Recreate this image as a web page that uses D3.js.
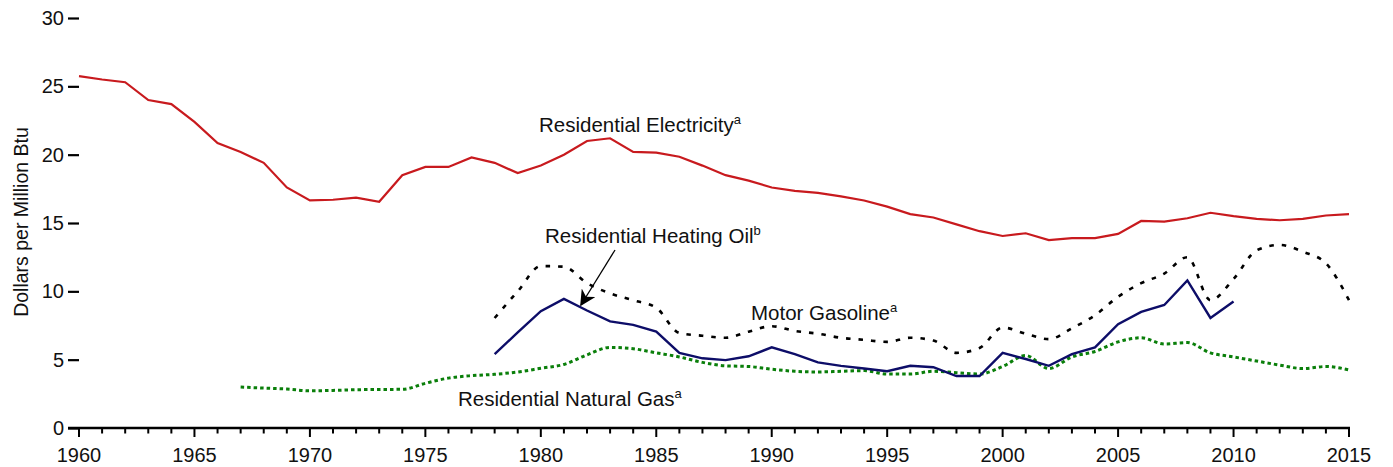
<!DOCTYPE html>
<html>
<head>
<meta charset="utf-8">
<script src="https://cdn.jsdelivr.net/npm/d3@7"></script>
<style>
  body { margin: 0; background: #fff; }
  text { font-family: "Liberation Sans", Arial, sans-serif; fill: #111; }
</style>
</head>
<body>
<div id="chart"></div>
<script>
const years = d3.range(1960, 2016);

const electricity = [25.75, 25.5, 25.3, 24.0, 23.7, 22.4, 20.85, 20.2, 19.4, 17.6,
  16.65, 16.7, 16.85, 16.55, 18.5, 19.1, 19.1, 19.8, 19.4, 18.65,
  19.2, 20.0, 21.0, 21.2, 20.2, 20.15, 19.85, 19.2, 18.5, 18.1,
  17.6, 17.35, 17.2, 16.95, 16.65, 16.2, 15.65, 15.4, 14.9, 14.4,
  14.05, 14.25, 13.75, 13.9, 13.9, 14.2, 15.15, 15.1, 15.35, 15.75,
  15.5, 15.3, 15.2, 15.3, 15.55, 15.65];

const heatingOilYears = d3.range(1978, 2011);
const heatingOil = [5.4, 7.0, 8.55, 9.45, 8.6, 7.8, 7.55, 7.05, 5.5, 5.1,
  4.97, 5.25, 5.9, 5.4, 4.8, 4.55, 4.35, 4.15, 4.55, 4.45,
  3.8, 3.8, 5.5, 5.05, 4.55, 5.4, 5.9, 7.6, 8.5, 9.0,
  10.8, 8.05, 9.25];

const gasolineYears = d3.range(1978, 2016);
const gasoline = [8.05, 10.0, 11.85, 11.8, 10.6, 9.85, 9.35, 8.8, 6.95, 6.75,
  6.6, 7.05, 7.45, 7.1, 6.9, 6.6, 6.45, 6.3, 6.6, 6.4,
  5.5, 5.85, 7.35, 6.9, 6.5, 7.3, 8.25, 9.6, 10.6, 11.3,
  12.5, 9.35, 10.9, 13.0, 13.4, 12.9, 12.05, 9.35];

const naturalGasYears = d3.range(1967, 2016);
const naturalGas = [3.0, 2.92, 2.85, 2.72, 2.75, 2.8, 2.82, 2.83, 3.27, 3.65,
  3.83, 3.93, 4.1, 4.37, 4.65, 5.35, 5.9, 5.8, 5.5, 5.2,
  4.8, 4.55, 4.5, 4.3, 4.15, 4.1, 4.15, 4.2, 3.95, 3.95,
  4.15, 4.05, 3.95, 4.5, 5.3, 4.35, 5.2, 5.6, 6.3, 6.6,
  6.15, 6.25, 5.5, 5.2, 4.9, 4.6, 4.35, 4.5, 4.25];

const yTicks = [0, 5, 10, 15, 20, 25, 30];
const xMajorTicks = d3.range(1960, 2016, 5);

const width = 1393, height = 467;
const margin = { top: 18, right: 44, bottom: 39, left: 79 };

const svg = d3.select("#chart").append("svg")
    .attr("width", width)
    .attr("height", height);

const x = d3.scaleLinear()
    .domain([1960, 2015])
    .range([margin.left, width - margin.right]);

const y = d3.scaleLinear()
    .domain([0, 30])
    .range([height - margin.bottom, margin.top]);

// y axis: ticks only, no domain line
const yAxis = svg.append("g")
    .attr("transform", `translate(${margin.left},0)`)
    .call(d3.axisLeft(y).tickValues(yTicks).tickSize(11).tickPadding(4));
yAxis.select(".domain").remove();
yAxis.selectAll("line").attr("stroke", "#000").attr("stroke-width", 2.2);
yAxis.selectAll("text")
    .style("font-size", "20px")
    .attr("font-family", null);

// x axis: minor ticks every year, major every 5
const baseY = y(0);
svg.append("line")
    .attr("x1", margin.left - 11).attr("x2", x(2015) + 1)
    .attr("y1", baseY).attr("y2", baseY)
    .attr("stroke", "#000").attr("stroke-width", 2.4);

svg.append("g").selectAll("line")
    .data(years)
    .join("line")
    .attr("x1", d => x(d)).attr("x2", d => x(d))
    .attr("y1", baseY)
    .attr("y2", d => baseY + (d % 5 === 0 ? 9 : 5.5))
    .attr("stroke", "#000")
    .attr("stroke-width", 2);

svg.append("g").selectAll("text")
    .data(xMajorTicks)
    .join("text")
    .attr("x", d => x(d))
    .attr("y", baseY + 34)
    .attr("text-anchor", "middle")
    .style("font-size", "20px")
    .text(d => d);

// y label
svg.append("text")
    .attr("transform", `translate(28,222) rotate(-90)`)
    .attr("text-anchor", "middle")
    .style("font-size", "19.5px")
    .text("Dollars per Million Btu");

const lineLin = d3.line().x(d => x(d[0])).y(d => y(d[1]));
const lineSmooth = d3.line().x(d => x(d[0])).y(d => y(d[1])).curve(d3.curveMonotoneX);

// natural gas
svg.append("path")
    .datum(d3.zip(naturalGasYears, naturalGas))
    .attr("d", lineSmooth)
    .attr("fill", "none")
    .attr("stroke", "#0a7f0a")
    .attr("stroke-width", 3)
    .attr("stroke-dasharray", "3.5,3");

// motor gasoline
svg.append("path")
    .datum(d3.zip(gasolineYears, gasoline))
    .attr("d", lineSmooth)
    .attr("fill", "none")
    .attr("stroke", "#000")
    .attr("stroke-width", 2.6)
    .attr("stroke-dasharray", "4.5,8");

// heating oil
svg.append("path")
    .datum(d3.zip(heatingOilYears, heatingOil))
    .attr("d", lineLin)
    .attr("fill", "none")
    .attr("stroke", "#0d0d68")
    .attr("stroke-width", 2.4);

// electricity
svg.append("path")
    .datum(d3.zip(years, electricity))
    .attr("d", lineLin)
    .attr("fill", "none")
    .attr("stroke", "#c81a1e")
    .attr("stroke-width", 2.2);

// labels
function label(txt, sup, px, py) {
    const t = svg.append("text")
        .attr("x", px).attr("y", py)
        .style("font-size", "20.5px");
    t.append("tspan").text(txt);
    t.append("tspan")
        .attr("dy", -8)
        .style("font-size", "13px")
        .text(sup);
}
label("Residential Electricity", "a", 539, 132);
label("Residential Heating Oil", "b", 545, 243);
label("Motor Gasoline", "a", 751, 320);
label("Residential Natural Gas", "a", 458, 406);

// arrow to heating oil line
svg.append("defs").append("marker")
    .attr("id", "arrow")
    .attr("viewBox", "0 0 10 10")
    .attr("refX", 9).attr("refY", 5)
    .attr("markerWidth", 16).attr("markerHeight", 16)
    .attr("markerUnits", "userSpaceOnUse")
    .attr("orient", "auto")
    .append("path")
    .attr("d", "M0,0 L10,5 L0,10 L3,5 Z")
    .attr("fill", "#000");

svg.append("line")
    .attr("x1", 615).attr("y1", 250)
    .attr("x2", 581).attr("y2", 305)
    .attr("stroke", "#000")
    .attr("stroke-width", 1.3)
    .attr("marker-end", "url(#arrow)");
</script>
</body>
</html>
